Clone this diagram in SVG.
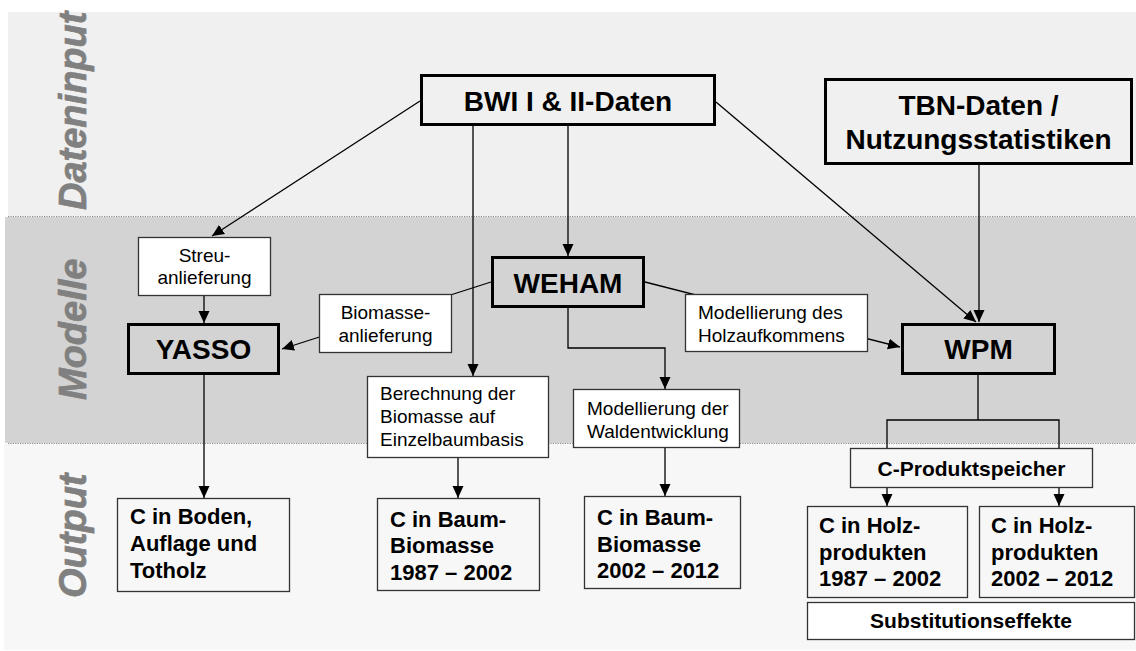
<svg xmlns="http://www.w3.org/2000/svg" width="1136" height="651" viewBox="0 0 1136 651">
<defs>
<marker id="arr" markerUnits="userSpaceOnUse" markerWidth="14" markerHeight="12" refX="12" refY="6" orient="auto">
<path d="M0,0.5 L12,6 L0,11.5 Z" fill="#000"/>
</marker>
</defs>
<style>
.band-label{font-family:"Liberation Sans",Arial,sans-serif;font-weight:bold;font-style:italic;font-size:38px;fill:#808080;stroke:#808080;stroke-width:0.7}
.thick{stroke:#000;stroke-width:3;}
.thin{stroke:#333;stroke-width:1.3;}
.big{font-family:"Liberation Sans",Arial,sans-serif;font-weight:bold;font-size:28px;fill:#000;text-anchor:middle}
.lbl{font-family:"Liberation Sans",Arial,sans-serif;font-size:19px;fill:#000}
.out{font-family:"Liberation Sans",Arial,sans-serif;font-weight:bold;font-size:22px;fill:#000}
.conn{fill:none;stroke:#000;stroke-width:1.3}
.dot{stroke:#888;stroke-width:1.2;stroke-dasharray:1.2 1.2}
</style>
<rect x="0" y="0" width="1136" height="651" fill="#fff"/>
<g id="bands">
<rect x="8" y="12" width="1128" height="204" fill="#f0f0f0"/>
<rect x="5" y="217" width="1131" height="226" fill="#d3d3d3"/>
<rect x="4" y="444" width="1132" height="206" fill="#f7f7f7"/>
<line class="dot" x1="8" y1="216.5" x2="1136" y2="216.5"/>
<line class="dot" x1="8" y1="443.5" x2="1136" y2="443.5"/>
<text class="band-label" transform="translate(86,210) rotate(-90)">Dateninput</text>
<text class="band-label" transform="translate(86,400) rotate(-90)">Modelle</text>
<text class="band-label" transform="translate(86,598) rotate(-90)">Output</text>
</g>
<g id="connectors">
<line class="conn" x1="420" y1="101" x2="212" y2="236" marker-end="url(#arr)"/>
<line class="conn" x1="473" y1="126" x2="473" y2="376" marker-end="url(#arr)"/>
<line class="conn" x1="568" y1="126" x2="568" y2="256" marker-end="url(#arr)"/>
<line class="conn" x1="716" y1="102" x2="976" y2="322" marker-end="url(#arr)"/>
<line class="conn" x1="979" y1="165" x2="979" y2="322" marker-end="url(#arr)"/>
<line class="conn" x1="491" y1="282" x2="282" y2="349" marker-end="url(#arr)"/>
<line class="conn" x1="645" y1="282" x2="900" y2="347" marker-end="url(#arr)"/>
<path class="conn" d="M568,308 V348 H665 V389" marker-end="url(#arr)"/>
<line class="conn" x1="204" y1="296" x2="204" y2="323" marker-end="url(#arr)"/>
<line class="conn" x1="204" y1="375" x2="204" y2="498" marker-end="url(#arr)"/>
<line class="conn" x1="458" y1="458" x2="458" y2="498" marker-end="url(#arr)"/>
<line class="conn" x1="665" y1="448" x2="665" y2="496" marker-end="url(#arr)"/>
<path class="conn" d="M978,375 V420 M887,448 V420 H1059 V448"/>
<line class="conn" x1="887" y1="488" x2="887" y2="506" marker-end="url(#arr)"/>
<line class="conn" x1="1059" y1="488" x2="1059" y2="506" marker-end="url(#arr)"/>
</g>
<g id="bwi">
<rect class="thick" x="421.5" y="75.5" width="293" height="49" fill="#f0f0f0"/>
<text class="big" x="568" y="111">BWI I &amp; II-Daten</text>
</g>
<g id="tbn">
<rect class="thick" x="825.5" y="79.5" width="306" height="84" fill="#f0f0f0"/>
<text class="big" x="978.5" y="115">TBN-Daten /</text>
<text class="big" x="978.5" y="149">Nutzungsstatistiken</text>
</g>
<g id="weham">
<rect class="thick" x="492.5" y="257.5" width="151" height="49" fill="#d3d3d3"/>
<text class="big" x="568" y="293">WEHAM</text>
</g>
<g id="yasso">
<rect class="thick" x="128.5" y="324.5" width="150" height="49" fill="#d3d3d3"/>
<text class="big" x="203.5" y="359">YASSO</text>
</g>
<g id="wpm">
<rect class="thick" x="902.5" y="324.5" width="152" height="49" fill="#d3d3d3"/>
<text class="big" x="978.5" y="359">WPM</text>
</g>
<g id="streu">
<rect class="thin" x="138.5" y="237.5" width="132" height="58" fill="#fff"/>
<text class="lbl" x="204.5" y="262" text-anchor="middle">Streu-</text>
<text class="lbl" x="204.5" y="284" text-anchor="middle">anlieferung</text>
</g>
<g id="biomasse">
<rect class="thin" x="319.5" y="294.5" width="132" height="58" fill="#fff"/>
<text class="lbl" x="385.5" y="319" text-anchor="middle">Biomasse-</text>
<text class="lbl" x="385.5" y="342" text-anchor="middle">anlieferung</text>
</g>
<g id="holzaufkommen">
<rect class="thin" x="685.5" y="294.5" width="182" height="57" fill="#fff"/>
<text class="lbl" x="698" y="319">Modellierung des</text>
<text class="lbl" x="698" y="342">Holzaufkommens</text>
</g>
<g id="berechnung">
<rect class="thin" x="367.5" y="376.5" width="181" height="81" fill="#fff"/>
<text class="lbl" x="380" y="400">Berechnung der</text>
<text class="lbl" x="380" y="423">Biomasse auf</text>
<text class="lbl" x="380" y="446">Einzelbaumbasis</text>
</g>
<g id="waldentwicklung">
<rect class="thin" x="573.5" y="389.5" width="166" height="58" fill="#fff"/>
<text class="lbl" x="587" y="415">Modellierung der</text>
<text class="lbl" x="587" y="438">Waldentwicklung</text>
</g>
<g id="boden">
<rect class="thin" x="117.5" y="498.5" width="172" height="93" fill="#f7f7f7"/>
<text class="out" x="130" y="524">C in Boden,</text>
<text class="out" x="130" y="551">Auflage und</text>
<text class="out" x="130" y="578">Totholz</text>
</g>
<g id="baum1987">
<rect class="thin" x="377.5" y="498.5" width="162" height="92" fill="#f7f7f7"/>
<text class="out" x="390" y="527">C in Baum-</text>
<text class="out" x="390" y="553">Biomasse</text>
<text class="out" x="390" y="580">1987 – 2002</text>
</g>
<g id="baum2002">
<rect class="thin" x="584.5" y="496.5" width="156" height="92" fill="#f7f7f7"/>
<text class="out" x="597" y="525">C in Baum-</text>
<text class="out" x="597" y="552">Biomasse</text>
<text class="out" x="597" y="578">2002 – 2012</text>
</g>
<g id="produktspeicher">
<rect class="thin" x="850.5" y="448.5" width="242" height="39" fill="#f7f7f7"/>
<text class="out" x="971.5" y="476" text-anchor="middle" style="font-size:21px">C-Produktspeicher</text>
</g>
<g id="holz1987">
<rect class="thin" x="807.5" y="506.5" width="160" height="91" fill="#f7f7f7"/>
<text class="out" x="819" y="533">C in Holz-</text>
<text class="out" x="819" y="560">produkten</text>
<text class="out" x="819" y="586">1987 – 2002</text>
</g>
<g id="holz2002">
<rect class="thin" x="979.5" y="506.5" width="155" height="91" fill="#f7f7f7"/>
<text class="out" x="991" y="533">C in Holz-</text>
<text class="out" x="991" y="560">produkten</text>
<text class="out" x="991" y="586">2002 – 2012</text>
</g>
<g id="substitution">
<rect class="thin" x="807.5" y="602.5" width="327" height="37" fill="#fff"/>
<text class="out" x="971" y="628" text-anchor="middle" style="font-size:21px">Substitutionseffekte</text>
</g>
</svg>
